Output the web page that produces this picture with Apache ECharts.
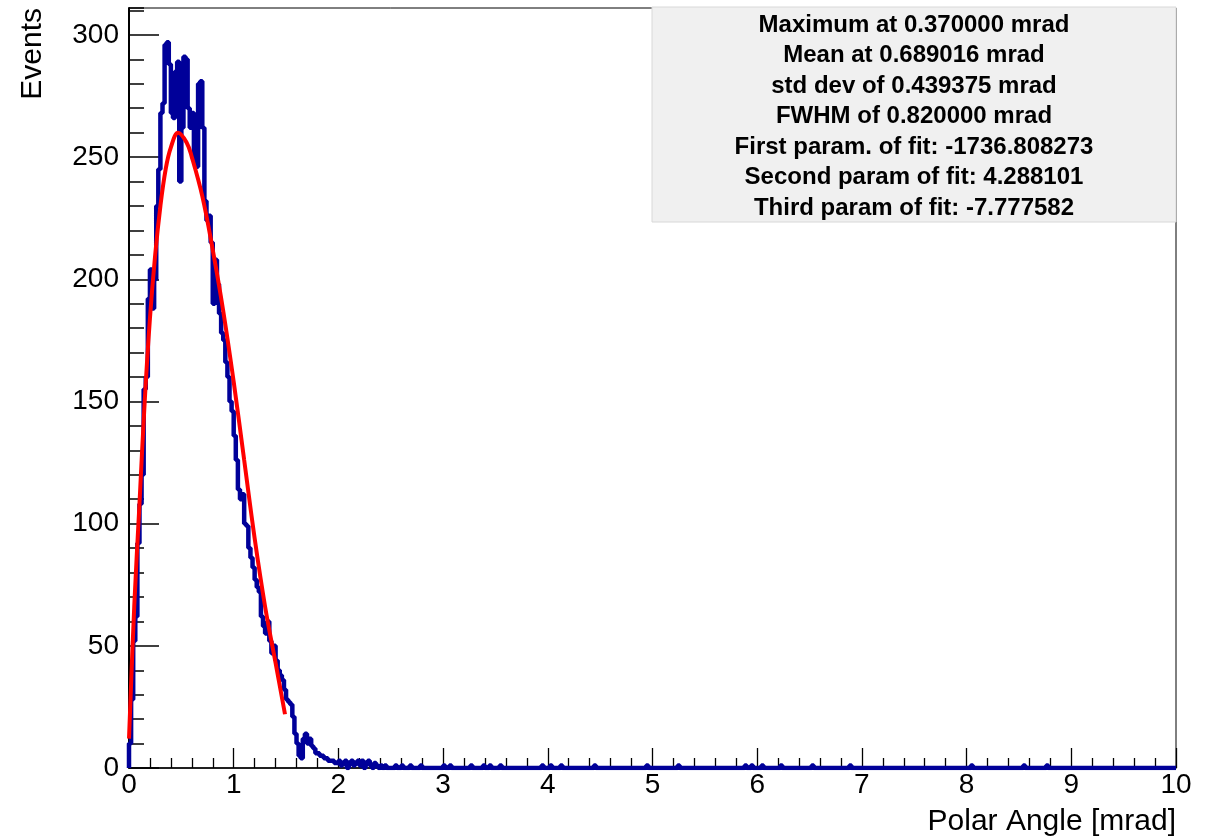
<!DOCTYPE html>
<html>
<head>
<meta charset="utf-8">
<title>Polar Angle</title>
<style>
  html, body { margin: 0; padding: 0; background: #fff; }
  #chart { width: 1214px; height: 838px; }
</style>
</head>
<body>
<div id="chart"></div>
<script src="https://cdn.jsdelivr.net/npm/echarts@6/dist/echarts.min.js"></script>
<script>
// histogram: 0.02 mrad bins, counts for 0.00 - 2.50
var binWidth = 0.02;
var nBins = 500;
var lowCounts = [
  10, 28, 52, 62, 92, 108, 120, 155, 160, 192,
  204, 188, 200, 230, 245, 268, 272, 296, 297, 288,
  268, 266, 285, 289, 240, 262, 291, 290, 270, 262,
  268, 250, 246, 280, 281, 262, 232, 224, 226, 215,
  190, 208, 198, 186, 178, 175, 166, 160, 150, 146,
  136, 126, 114, 110, 112, 100, 99, 90, 86, 82,
  77, 74, 72, 62, 58, 55, 60, 52, 47, 50,
  44, 40, 38, 36, 32, 28, 27, 26, 21, 14,
  10, 5, 4, 12, 14, 10, 12, 9, 8, 6,
  6, 5, 5, 4, 4, 3, 3, 3, 2, 2,
  3, 1, 2, 3, 0, 2, 3, 1, 2, 3,
  1, 3, 0, 2, 3, 1, 0, 2, 1, 0,
  1, 0, 1, 0, 0
];
// single entries further out (bin centres)
var tailHits = [2.55, 2.61, 2.69, 2.79, 3.01, 3.07, 3.27, 3.39, 3.45, 3.55,
  3.95, 4.03, 4.13, 4.45, 4.95, 5.25, 5.89, 5.95, 6.05, 6.23, 6.53, 6.89,
  8.05, 8.55, 8.77];

// fit curve
var fitX = [0.0, 0.05, 0.1, 0.15, 0.2, 0.25, 0.3, 0.35, 0.4, 0.47, 0.55, 0.6, 0.7, 0.8, 0.9, 1.0, 1.1, 1.2, 1.3, 1.4, 1.49];
var fitY = [12, 66, 108, 150, 184, 210, 230, 245, 254, 260, 256, 250, 234, 212, 187, 158, 126, 94, 66, 43, 22];

var xTicks = [0, 10, 1];
var yTicks = [0, 311, 50];

var statLines = [
  'Maximum at 0.370000 mrad',
  'Mean at 0.689016 mrad',
  'std dev of 0.439375 mrad',
  'FWHM of 0.820000 mrad',
  'First param. of fit: -1736.808273',
  'Second param of fit: 4.288101',
  'Third param of fit: -7.777582'
];

var counts = [];
for (var i = 0; i < nBins; i++) counts.push(i < lowCounts.length ? lowCounts[i] : 0);
tailHits.forEach(function (c) { counts[Math.floor(c / binWidth)] += 1; });

var histData = [[0, 0]];
for (var i = 0; i < nBins; i++) histData.push([+((i + 1) * binWidth).toFixed(2), counts[i]]);
histData.push([10, 0]);

var fitData = fitX.map(function (x, i) { return [x, fitY[i]]; });

var font = '"Liberation Sans", Arial, Helvetica, sans-serif';

var graphics = [
  { type: 'rect', shape: { x: 652, y: 7, width: 524, height: 215 },
    style: { fill: '#f0f0f0', stroke: '#d8d8d8', lineWidth: 1 }, z: 10 },
  { type: 'text', x: 33, y: 8, rotation: Math.PI / 2, z: 11,
    style: { text: 'Events', textAlign: 'right', textVerticalAlign: 'middle',
             font: '30px ' + font, fill: '#000' } },
  { type: 'text', x: 1176, y: 822, z: 11,
    style: { text: 'Polar Angle [mrad]', textAlign: 'right', textVerticalAlign: 'middle',
             font: '30px ' + font, fill: '#000' } }
];
statLines.forEach(function (s, i) {
  graphics.push({
    type: 'text', x: 914, y: 25 + i * 30.5, z: 12,
    style: { text: s, textAlign: 'center', textVerticalAlign: 'middle',
             font: 'bold 24px ' + font, fill: '#000' }
  });
});

var chart = echarts.init(document.getElementById('chart'));
chart.setOption({
  animation: false,
  backgroundColor: '#fff',
  grid: { left: 129, right: 38, top: 8, bottom: 70, show: true,
          borderColor: '#000', borderWidth: 1, backgroundColor: 'transparent' },
  xAxis: [{
    type: 'value', min: xTicks[0], max: xTicks[1], interval: xTicks[2],
    axisLine: { show: true, onZero: false, lineStyle: { color: '#000', width: 1.5 } },
    axisTick: { show: true, inside: true, length: 20, lineStyle: { color: '#000', width: 1.3 } },
    minorTick: { show: true, splitNumber: 5, length: 10, lineStyle: { color: '#000', width: 1.3 } },
    splitLine: { show: false },
    axisLabel: { color: '#000', fontSize: 28, fontFamily: font, margin: 3 }
  }],
  yAxis: [{
    type: 'value', min: yTicks[0], max: yTicks[1], interval: yTicks[2],
    axisLine: { show: true, onZero: false, lineStyle: { color: '#000', width: 2 } },
    axisTick: { show: true, inside: true, length: 30, lineStyle: { color: '#000', width: 1.5 } },
    splitLine: { show: false },
    axisLabel: { color: '#000', fontSize: 28, fontFamily: font, margin: 10, showMaxLabel: false,
                 formatter: function (v) { return v % 50 === 0 ? v : ''; } }
  }, {
    // minor ticks every 10 events
    type: 'value', position: 'left', min: yTicks[0], max: yTicks[1], interval: 10,
    axisLine: { show: false },
    axisTick: { show: true, inside: true, length: 15, lineStyle: { color: '#000', width: 1.5 } },
    splitLine: { show: false },
    axisLabel: { show: false }
  }],
  series: [{
    type: 'line', name: 'hist', data: histData, step: 'start', symbol: 'none',
    yAxisIndex: 0, clip: true,
    lineStyle: { color: '#000099', width: 4.5 }, z: 2
  }, {
    type: 'line', name: 'fit', data: fitData, smooth: 0.4, symbol: 'none',
    yAxisIndex: 0, clip: true,
    lineStyle: { color: '#ff0000', width: 4, cap: 'butt' }, z: 3
  }],
  graphic: graphics
});
</script>
</body>
</html>
